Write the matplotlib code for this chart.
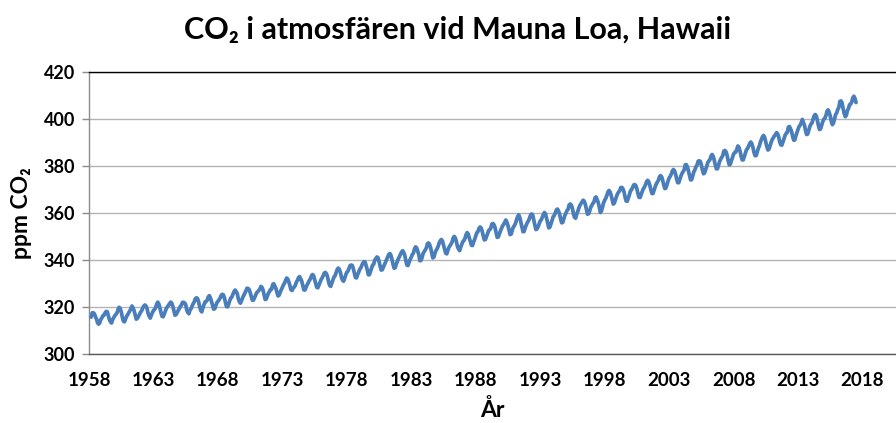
import numpy as np
import matplotlib
matplotlib.use("Agg")
import matplotlib.pyplot as plt

plt.rcParams['font.family'] = ['Lato', 'DejaVu Sans']

# Monthly mean CO2 (ppm) at Mauna Loa, starting March 1958
co2_1958_1969 = [
    315.7, 317.5, 317.5, 317.1, 315.9, 314.9, 313.2, 312.7, 313.3, 314.7,
    315.42, 316.31, 316.50, 317.56, 318.13, 318.00, 316.39, 314.65, 313.68, 313.18, 314.66, 315.43,
    316.27, 316.81, 317.42, 318.87, 319.87, 319.43, 318.01, 315.74, 314.00, 313.68, 314.84, 316.03,
    316.73, 317.54, 318.38, 319.31, 320.42, 319.61, 318.42, 316.63, 314.83, 315.16, 315.94, 316.85,
    317.78, 318.40, 319.53, 320.42, 320.85, 320.45, 319.45, 317.25, 316.11, 315.27, 316.53, 317.53,
    318.58, 318.92, 319.70, 321.22, 322.08, 321.31, 319.58, 317.61, 316.05, 315.83, 316.91, 318.20,
    319.41, 320.07, 320.74, 321.40, 322.06, 321.73, 320.27, 318.54, 316.54, 316.71, 317.53, 318.55,
    319.27, 320.28, 320.73, 321.97, 322.00, 321.71, 321.05, 318.71, 317.66, 317.14, 318.70, 319.25,
    320.46, 321.43, 322.23, 323.54, 323.91, 323.59, 322.24, 320.20, 318.48, 317.94, 319.63, 320.87,
    322.17, 322.34, 322.88, 324.25, 324.83, 323.93, 322.38, 320.76, 319.10, 319.24, 320.56, 321.80,
    322.40, 322.99, 323.73, 324.86, 325.40, 325.20, 323.98, 321.95, 320.18, 320.09, 321.16, 322.74,
    323.83, 324.26, 325.47, 326.50, 327.21, 326.54, 325.72, 323.50, 322.22, 321.62, 322.69, 323.95,
]
co2_1970_1979 = [
    324.89, 325.82, 326.77, 327.97, 327.91, 327.50, 326.18, 324.53, 322.93, 322.90, 323.85, 324.96,
    326.01, 326.51, 327.01, 327.62, 328.76, 328.40, 327.20, 325.27, 323.20, 323.40, 324.63, 325.85,
    326.60, 327.47, 327.58, 329.56, 329.90, 328.92, 327.88, 326.16, 324.68, 325.04, 326.34, 327.39,
    328.37, 329.40, 330.14, 331.33, 332.31, 331.90, 330.70, 329.15, 327.35, 327.02, 327.99, 328.48,
    329.18, 330.55, 331.32, 332.48, 332.92, 332.08, 331.01, 329.23, 327.27, 327.21, 328.29, 329.41,
    330.23, 331.25, 331.87, 333.14, 333.80, 333.43, 331.73, 329.90, 328.40, 328.17, 329.32, 330.59,
    331.58, 332.39, 333.33, 334.41, 334.71, 334.17, 332.89, 330.77, 329.14, 328.78, 330.14, 331.52,
    332.75, 333.24, 334.53, 335.90, 336.57, 336.10, 334.76, 332.59, 331.42, 330.98, 332.24, 333.68,
    334.80, 335.22, 336.47, 337.59, 337.84, 337.72, 336.37, 334.51, 332.60, 332.38, 333.75, 334.78,
    336.05, 336.59, 337.79, 338.71, 339.30, 339.12, 337.56, 335.92, 333.75, 333.70, 335.12, 336.56,
]
co2_1980_1989 = [
    337.84, 338.19, 339.91, 340.60, 341.29, 341.00, 339.39, 337.43, 335.72, 335.84, 336.93, 338.04,
    339.06, 340.30, 341.21, 342.33, 342.74, 342.08, 340.32, 338.26, 336.52, 336.68, 338.19, 339.44,
    340.57, 341.44, 342.53, 343.39, 343.96, 343.18, 341.88, 339.65, 337.81, 337.69, 339.09, 340.32,
    341.20, 342.35, 342.93, 344.77, 345.58, 345.14, 343.81, 342.21, 339.69, 339.82, 340.98, 342.82,
    343.52, 344.33, 345.11, 346.88, 347.25, 346.62, 345.22, 343.11, 340.90, 341.18, 342.80, 344.04,
    344.79, 345.82, 347.25, 348.17, 348.74, 348.07, 346.38, 344.51, 342.92, 342.62, 344.06, 345.38,
    346.11, 346.78, 347.68, 349.37, 350.03, 349.37, 347.76, 345.73, 344.68, 343.99, 345.48, 346.72,
    347.84, 348.29, 349.23, 350.80, 351.66, 351.07, 349.33, 347.92, 346.27, 346.18, 347.64, 348.78,
    350.25, 351.54, 352.05, 353.41, 354.04, 353.62, 352.22, 350.27, 348.55, 348.72, 349.91, 351.18,
    352.60, 352.92, 353.53, 355.26, 355.52, 354.97, 353.75, 351.52, 349.64, 349.83, 351.14, 352.37,
]
co2_1990_1999 = [
    353.50, 354.55, 355.23, 356.04, 357.00, 356.07, 354.67, 352.76, 350.82, 351.04, 352.69, 354.07,
    354.59, 355.63, 357.03, 358.48, 359.22, 358.12, 356.06, 353.92, 352.05, 352.11, 353.64, 354.89,
    355.88, 356.63, 357.72, 359.07, 359.58, 359.17, 356.94, 354.92, 352.94, 353.23, 354.09, 355.33,
    356.63, 357.10, 358.32, 359.41, 360.23, 359.55, 357.53, 355.48, 353.67, 353.95, 355.30, 356.78,
    358.34, 358.89, 359.95, 361.25, 361.67, 360.94, 359.55, 357.49, 355.84, 356.00, 357.59, 359.05,
    359.98, 361.03, 361.66, 363.48, 363.82, 363.30, 361.94, 359.50, 358.11, 357.80, 359.61, 360.74,
    362.09, 363.29, 364.06, 364.76, 365.45, 365.01, 363.70, 361.54, 359.51, 359.65, 360.80, 362.38,
    363.23, 364.06, 364.61, 366.40, 366.84, 365.68, 364.52, 362.57, 360.24, 360.83, 362.49, 364.34,
    365.4, 366.2, 367.4, 368.9, 369.6, 369.0, 367.6, 365.6, 363.8, 364.2, 365.6, 367.0,
    368.2, 368.9, 369.5, 370.8, 370.9, 370.3, 369.0, 366.8, 365.1, 365.0, 366.4, 367.7,
]
co2_2000_2009 = [
    369.4, 369.9, 370.8, 371.9, 372.1, 371.7, 370.3, 368.3, 366.7, 366.6, 367.9, 369.2,
    370.3, 371.0, 372.0, 373.3, 373.9, 373.3, 371.9, 369.9, 368.3, 368.3, 369.7, 371.1,
    372.3, 373.1, 373.9, 375.4, 375.9, 375.4, 374.0, 371.9, 370.4, 370.6, 372.0, 373.6,
    374.9, 375.6, 376.5, 377.9, 378.5, 378.0, 376.6, 374.5, 372.9, 372.9, 374.3, 375.8,
    376.8, 377.6, 378.4, 380.5, 380.6, 379.6, 377.9, 375.9, 374.1, 374.2, 375.9, 377.5,
    378.4, 379.7, 380.4, 382.0, 382.2, 382.0, 380.5, 378.3, 376.7, 377.0, 378.4, 379.9,
    381.4, 382.2, 382.7, 384.2, 384.9, 384.2, 382.5, 380.4, 378.8, 378.8, 380.3, 381.9,
    382.9, 383.7, 384.5, 386.4, 386.6, 386.0, 384.5, 382.2, 380.5, 380.8, 382.3, 383.6,
    385.1, 385.7, 385.9, 387.0, 388.5, 387.9, 386.4, 384.2, 382.6, 382.6, 384.0, 385.4,
    386.9, 387.4, 388.5, 389.5, 390.2, 389.5, 388.0, 385.8, 384.4, 384.4, 386.0, 387.5,
]
co2_2010_2017 = [
    388.5, 390.2, 391.3, 392.5, 393.0, 392.1, 390.2, 388.2, 386.8, 387.2, 388.7, 390.1,
    391.3, 392.0, 392.8, 393.3, 394.2, 393.7, 392.4, 390.2, 389.0, 388.9, 390.3, 391.7,
    393.1, 393.9, 394.3, 396.5, 396.8, 395.9, 394.6, 392.6, 391.0, 391.1, 392.9, 394.3,
    395.6, 396.8, 397.4, 398.4, 399.8, 398.6, 397.3, 395.1, 393.4, 393.6, 395.2, 396.8,
    397.8, 398.3, 399.9, 401.3, 401.9, 401.3, 399.4, 397.2, 395.5, 395.8, 397.3, 398.9,
    399.9, 400.3, 401.5, 403.3, 403.9, 402.8, 401.3, 398.9, 397.6, 398.3, 400.2, 401.9,
    402.6, 404.1, 404.9, 407.5, 407.7, 406.8, 404.4, 402.3, 401.0, 401.6, 403.6, 404.5,
    406.1, 406.4, 407.2, 409.0, 409.7, 408.8, 407.0,
]

start_year, start_month = 1958, 3
x_ticks = [1958, 1963, 1968, 1973, 1978, 1983, 1988, 1993, 1998, 2003, 2008, 2013, 2018]
y_ticks = [300, 320, 340, 360, 380, 400, 420]

co2 = np.array(co2_1958_1969 + co2_1970_1979 + co2_1980_1989 +
               co2_1990_1999 + co2_2000_2009 + co2_2010_2017)
months = np.arange(len(co2)) + (start_month - 1)
dates = start_year + months / 12.0

fig = plt.figure(figsize=(8.96, 4.23), dpi=100)
ax = fig.add_axes([89 / 896, 1 - 354 / 423, (896 - 89) / 896, (354 - 72) / 423])

ax.plot(dates, co2, color='#4a7ebb', lw=2.7, solid_joinstyle='round',
        solid_capstyle='round', zorder=3)

ax.set_xlim(1958, 2020.6)
ax.set_ylim(300, 420)
ax.set_xticks(x_ticks)
ax.set_yticks(y_ticks)
ax.yaxis.grid(True, color='#b3b3b3', lw=1.0)
ax.set_axisbelow(True)

ax.spines['right'].set_visible(False)
ax.spines['top'].set_color('#000000')
ax.spines['top'].set_linewidth(1.0)
ax.spines['bottom'].set_color('#595959')
ax.spines['bottom'].set_linewidth(1.0)
ax.spines['left'].set_color('#8c8c8c')
ax.spines['left'].set_linewidth(1.0)

ax.tick_params(axis='y', direction='out', length=5, width=1, color='#8c8c8c',
               pad=5, labelsize=13)
ax.tick_params(axis='x', length=0, pad=13, labelsize=13.5)
for lab in ax.get_xticklabels() + ax.get_yticklabels():
    lab.set_fontweight('bold')

ax.set_xlabel('År', fontsize=16.5, fontweight='bold', labelpad=7)
ax.set_ylabel('ppm CO₂', fontsize=16.5, fontweight='bold', labelpad=8)
fig.text(458 / 896, 1 - 30 / 423, 'CO₂ i atmosfären vid Mauna Loa, Hawaii',
         ha='center', va='center', fontsize=22, fontweight='bold')

fig.savefig('out.png', dpi=100)
